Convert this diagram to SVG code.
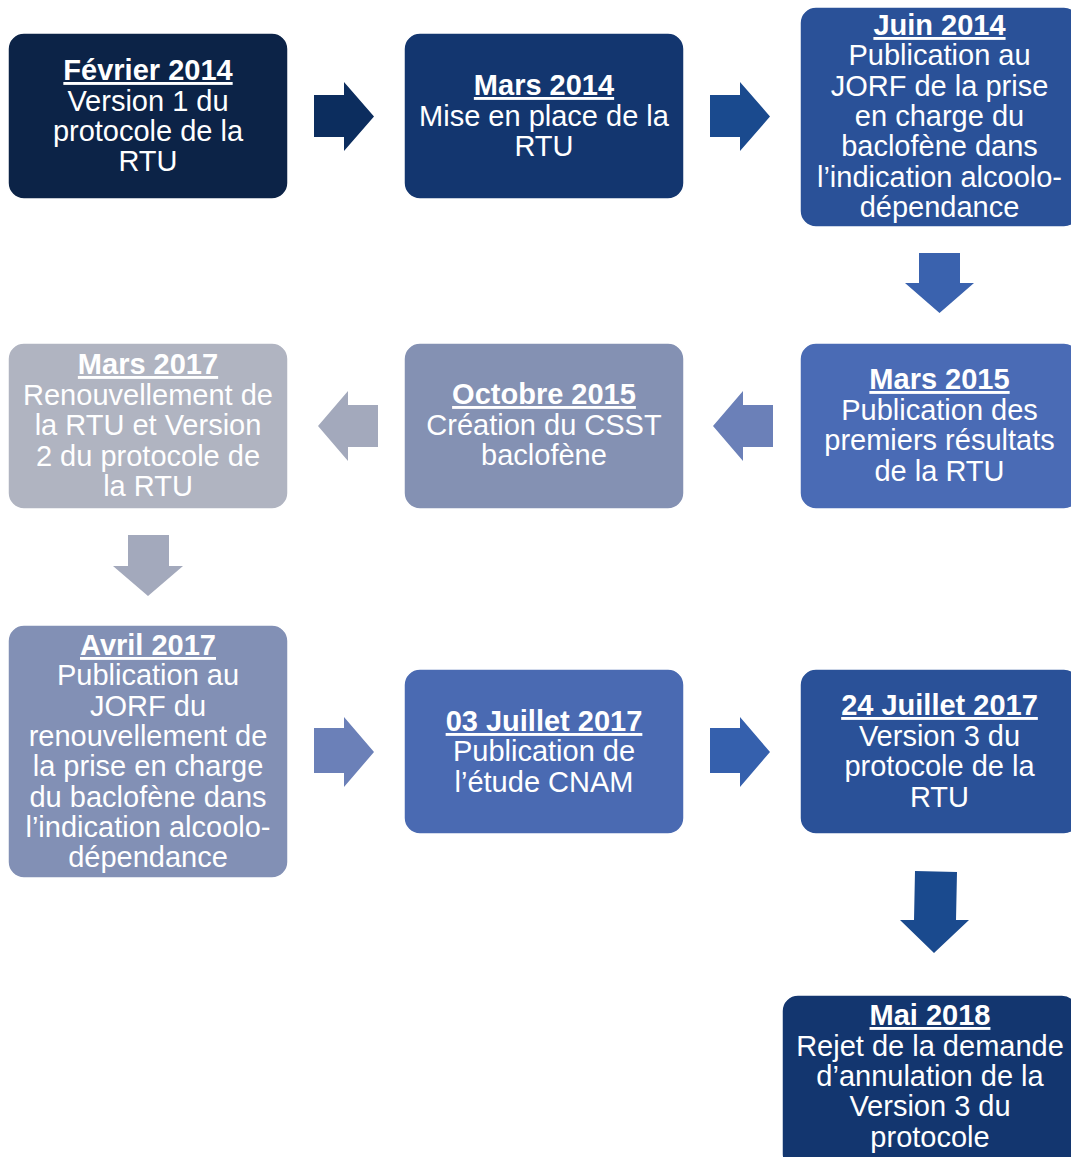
<svg xmlns="http://www.w3.org/2000/svg" width="1071" height="1157" viewBox="0 0 1071 1157">
<style>
.box{stroke:#ffffff;stroke-width:1.5}
.t{font-family:"Liberation Sans",Arial,sans-serif;font-size:29px;fill:#ffffff;text-anchor:middle}
.h{font-weight:bold;text-decoration:underline}
</style>
<rect width="1071" height="1157" fill="#ffffff"/>
<g id="connectors">
<polygon points="314,95 344,95 344,82 374,116.5 344,151 344,137 314,137" fill="#0c2d5e"/>
<polygon points="710,95 740,95 740,82 770,116.5 740,151 740,137 710,137" fill="#1a4a8e"/>
<polygon points="919,253 960,253 960,283 974,283 939.5,313 905,283 919,283" fill="#3a62ae"/>
<polygon points="773,405 743,405 743,391 713,426 743,461 743,447 773,447" fill="#6b80b8"/>
<polygon points="378,405 348,405 348,391 318,426 348,461 348,447 378,447" fill="#a3a9bc"/>
<polygon points="128,535 169,535 169,566 183,566 148,596 113,566 128,566" fill="#a3a9bc"/>
<polygon points="314,728 344,728 344,717 374,752 344,787 344,773 314,773" fill="#6b80b8"/>
<polygon points="710,728 740,728 740,717 770,752 740,787 740,773 710,773" fill="#3560ad"/>
<polygon points="915,871 957,872 956,920 969,920 934,953 900,920 914,920" fill="#1a4a8e"/>
</g>
<g id="n1">
<rect class="box" x="8" y="33" width="280" height="166" rx="16" fill="#0c2347"/>
<text class="t" x="148" y="80"><tspan class="h">Février 2014</tspan><tspan x="148" y="110.5">Version 1 du</tspan><tspan x="148" y="140.5">protocole de la</tspan><tspan x="148" y="170.5">RTU</tspan></text>
</g>
<g id="n2">
<rect class="box" x="404" y="33" width="280" height="166" rx="16" fill="#13366f"/>
<text class="t" x="544" y="95"><tspan class="h">Mars 2014</tspan><tspan x="544" y="125.5">Mise en place de la</tspan><tspan x="544" y="156">RTU</tspan></text>
</g>
<g id="n3">
<rect class="box" x="800" y="7" width="280" height="220" rx="16" fill="#2a5198"/>
<text class="t" x="939.5" y="35"><tspan class="h">Juin 2014</tspan><tspan x="939.5" y="65.3">Publication au</tspan><tspan x="939.5" y="95.6">JORF de la prise</tspan><tspan x="939.5" y="126">en charge du</tspan><tspan x="939.5" y="156.3">baclofène dans</tspan><tspan x="939.5" y="186.6">l’indication alcoolo-</tspan><tspan x="939.5" y="217">dépendance</tspan></text>
</g>
<g id="n4">
<rect class="box" x="800" y="343" width="280" height="166" rx="16" fill="#4a6bb5"/>
<text class="t" x="939.5" y="389"><tspan class="h">Mars 2015</tspan><tspan x="939.5" y="419.5">Publication des</tspan><tspan x="939.5" y="450">premiers résultats</tspan><tspan x="939.5" y="480.5">de la RTU</tspan></text>
</g>
<g id="n5">
<rect class="box" x="404" y="343" width="280" height="166" rx="16" fill="#8491b3"/>
<text class="t" x="544" y="404"><tspan class="h">Octobre 2015</tspan><tspan x="544" y="434.5">Création du CSST</tspan><tspan x="544" y="465">baclofène</tspan></text>
</g>
<g id="n6">
<rect class="box" x="8" y="343" width="280" height="166" rx="16" fill="#b0b4c1"/>
<text class="t" x="148" y="374"><tspan class="h">Mars 2017</tspan><tspan x="148" y="404.5">Renouvellement de</tspan><tspan x="148" y="435">la RTU et Version</tspan><tspan x="148" y="465.5">2 du protocole de</tspan><tspan x="148" y="496">la RTU</tspan></text>
</g>
<g id="n7">
<rect class="box" x="8" y="625" width="280" height="253" rx="16" fill="#8290b5"/>
<text class="t" x="148" y="655"><tspan class="h">Avril 2017</tspan><tspan x="148" y="685.3">Publication au</tspan><tspan x="148" y="715.6">JORF du</tspan><tspan x="148" y="746">renouvellement de</tspan><tspan x="148" y="776.3">la prise en charge</tspan><tspan x="148" y="806.6">du baclofène dans</tspan><tspan x="148" y="837">l’indication alcoolo-</tspan><tspan x="148" y="867.3">dépendance</tspan></text>
</g>
<g id="n8">
<rect class="box" x="404" y="669" width="280" height="165" rx="16" fill="#4a6ab2"/>
<text class="t" x="544" y="731"><tspan class="h">03 Juillet 2017</tspan><tspan x="544" y="761.3">Publication de</tspan><tspan x="544" y="791.6">l’étude CNAM</tspan></text>
</g>
<g id="n9">
<rect class="box" x="800" y="669" width="280" height="165" rx="16" fill="#2a5198"/>
<text class="t" x="939.5" y="715"><tspan class="h">24 Juillet 2017</tspan><tspan x="939.5" y="745.5">Version 3 du</tspan><tspan x="939.5" y="776">protocole de la</tspan><tspan x="939.5" y="806.5">RTU</tspan></text>
</g>
<g id="n10">
<rect class="box" x="782" y="995" width="296" height="175" rx="16" fill="#13366f"/>
<text class="t" x="930" y="1025"><tspan class="h">Mai 2018</tspan><tspan x="930" y="1055.5">Rejet de la demande</tspan><tspan x="930" y="1086">d’annulation de la</tspan><tspan x="930" y="1116.3">Version 3 du</tspan><tspan x="930" y="1146.6">protocole</tspan></text>
</g>
</svg>
